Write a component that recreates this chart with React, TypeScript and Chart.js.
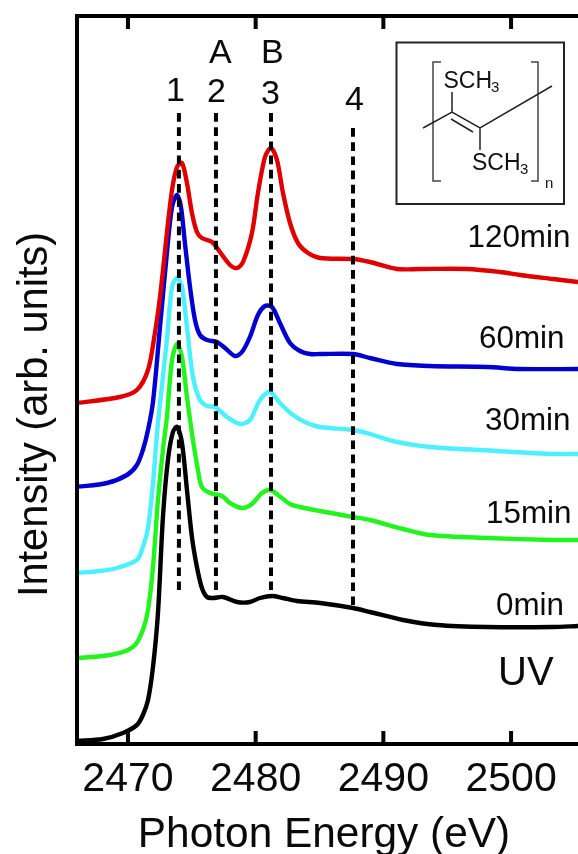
import React, { useEffect, useRef } from "react";
import { Chart, registerables } from "chart.js";

Chart.register(...registerables);

const FONT = '"Liberation Sans", Arial, sans-serif';

const redX = [2466.01, 2469.37, 2470.7, 2471.57, 2472.11, 2472.51, 2473.05, 2473.45, 2473.84, 2474.23, 2474.62, 2475.01, 2475.4, 2475.79, 2476.58, 2477.2, 2477.99, 2478.54, 2479.01, 2479.71, 2480.18, 2480.73, 2481.2, 2481.67, 2482.14, 2482.69, 2483.31, 2484.1, 2485.04, 2487.62, 2488.95, 2491.07, 2492.87, 2496.55, 2499.13, 2500.7, 2503.28, 2505.24];
const redY = [341, 347, 354, 374, 411, 447, 511, 554, 577, 581, 561, 531, 512, 506, 502, 492, 479, 476, 482, 511, 551, 587, 596, 584, 551, 521, 501, 491, 486, 485, 482, 475, 475, 475, 472, 469, 465, 462];

const blueX = [2466.01, 2468.36, 2469.92, 2470.7, 2471.17, 2471.57, 2471.96, 2472.51, 2473.05, 2473.45, 2473.84, 2474.15, 2474.46, 2474.86, 2475.25, 2475.64, 2476.19, 2476.97, 2477.6, 2478.38, 2478.93, 2479.55, 2480.18, 2480.73, 2481.28, 2481.9, 2482.69, 2483.47, 2484.25, 2485.04, 2487.62, 2488.95, 2491.07, 2493.65, 2498.11, 2500.7, 2505.24];
const blueY = [257, 261, 269, 279, 294, 314, 342, 417, 491, 537, 549, 537, 501, 457, 424, 409, 404, 402, 396, 388, 392, 407, 429, 438, 437, 421, 401, 393, 390, 390, 390, 386, 380, 378, 377, 375, 375];

const cyanX = [2466.01, 2467.81, 2469.14, 2470.7, 2471.17, 2471.57, 2471.96, 2472.35, 2473.05, 2473.45, 2473.84, 2474.23, 2474.62, 2475.09, 2475.64, 2476.19, 2476.81, 2477.75, 2478.77, 2479.55, 2480.34, 2481.12, 2481.9, 2482.92, 2484.02, 2485.04, 2487.62, 2488.95, 2491.07, 2493.65, 2498.9, 2503.28, 2505.24];
const cyanY = [171, 173, 176, 184, 197, 216, 261, 321, 404, 457, 466, 457, 417, 367, 344, 338, 337, 327, 320, 324, 344, 352, 341, 329, 321, 317, 314, 310, 302, 297, 293, 290, 290];

const greenX = [2466.01, 2468.04, 2469.61, 2470.55, 2471.17, 2471.57, 2471.96, 2472.35, 2472.74, 2473.05, 2473.45, 2473.84, 2474.23, 2474.62, 2475.09, 2475.48, 2475.79, 2476.42, 2477.36, 2477.99, 2478.93, 2479.71, 2480.49, 2481.12, 2481.75, 2482.69, 2483.47, 2485.04, 2487.62, 2488.95, 2491.54, 2493.65, 2498.11, 2503.28, 2505.24];
const greenY = [86, 88, 92, 99, 114, 134, 177, 244, 294, 327, 384, 400, 387, 347, 304, 274, 257, 251, 248, 241, 236, 240, 251, 254, 249, 240, 237, 233, 227, 224, 215, 209, 206, 204, 204];

const blackX = [2466.01, 2468.04, 2469.61, 2470.7, 2471.17, 2471.57, 2471.96, 2472.35, 2472.74, 2473.13, 2473.52, 2473.84, 2474.23, 2474.62, 2475.01, 2475.4, 2475.79, 2476.19, 2476.66, 2477.44, 2478.54, 2479.55, 2480.34, 2481.28, 2482.14, 2483.23, 2485.04, 2487.62, 2488.95, 2491.54, 2494.2, 2498.11, 2503.28, 2505.24];
const blackY = [3, 5, 11, 19, 29, 44, 77, 131, 227, 284, 312, 317, 301, 254, 207, 177, 156, 147, 146, 147, 142, 142, 146, 148, 146, 143, 141, 136, 132, 124, 119, 117, 117, 118];

const seriesNames = ["0min", "15min", "30min", "60min", "120min"];
const seriesColors = ["#000000", "#22f51e", "#4df0ff", "#0000d0", "#e00000"];

const markerEnergies = [2473.99, 2476.89, 2481.2, 2487.62];
const markerTops = [631, 631, 631, 616];
const markerBottoms = [154, 154, 154, 139];

const xTicks = [2470, 2480, 2490, 2500];

const zipXY = (xs: number[], ys: number[]) => xs.map((x, i) => ({ x, y: ys[i] }));

const annotationPlugin = {
  id: "annotations",
  afterDatasetsDraw(chart: any) {
    const { ctx, scales } = chart;
    const a = chart.chartArea;
    ctx.save();

    ctx.strokeStyle = "#000";
    ctx.lineWidth = 4;
    ctx.lineCap = "butt";
    ctx.beginPath();
    ctx.moveTo(a.left, a.bottom + 2);
    ctx.lineTo(a.left, a.top);
    ctx.moveTo(a.left - 2, a.top);
    ctx.lineTo(578, a.top);
    ctx.moveTo(a.left - 2, a.bottom);
    ctx.lineTo(578, a.bottom);
    for (const t of xTicks) {
      const px = scales.x.getPixelForValue(t);
      ctx.moveTo(px, a.top);
      ctx.lineTo(px, a.top + 13);
      ctx.moveTo(px, a.bottom);
      ctx.lineTo(px, a.bottom - 13);
    }
    ctx.stroke();

    ctx.fillStyle = "#0a0a0a";
    ctx.textBaseline = "alphabetic";
    ctx.textAlign = "left";
    const text = (s: string, x: number, y: number, size: number) => {
      ctx.font = `${size}px ${FONT}`;
      ctx.fillText(s, x, y);
    };
    text("1", 166, 101, 34);
    text("2", 207, 102, 34);
    text("3", 261, 104, 34);
    text("4", 345, 110, 34);
    text("A", 209, 63, 34);
    text("B", 261, 63, 34);
    text(seriesNames[4], 467.5, 247, 31.4);
    text(seriesNames[3], 479, 348, 31.4);
    text(seriesNames[2], 485, 430, 31.4);
    text(seriesNames[1], 486, 523, 31.4);
    text(seriesNames[0], 496, 615, 31.4);
    text("UV", 498, 685, 40);

    // axis titles
    ctx.textAlign = "center";
    text("Photon Energy (eV)", 324, 847, 42.4);
    ctx.save();
    ctx.translate(47, 414.5);
    ctx.rotate(-Math.PI / 2);
    text("Intensity (arb. units)", 0, 0, 41.6);
    ctx.restore();
    ctx.textAlign = "left";

    // inset structure
    ctx.lineWidth = 2;
    ctx.strokeStyle = "#222";
    ctx.strokeRect(396.5, 42.5, 167.5, 161.5);
    ctx.lineWidth = 1.5;
    ctx.strokeStyle = "#444";
    ctx.beginPath();
    ctx.moveTo(441, 62); ctx.lineTo(433, 62); ctx.lineTo(433, 181); ctx.lineTo(441, 181);
    ctx.moveTo(531, 62); ctx.lineTo(538, 62); ctx.lineTo(538, 181); ctx.lineTo(531, 181);
    ctx.stroke();
    ctx.strokeStyle = "#222";
    ctx.beginPath();
    ctx.moveTo(423, 128); ctx.lineTo(452, 112); ctx.lineTo(480, 128); ctx.lineTo(552, 86);
    ctx.moveTo(451, 119); ctx.lineTo(473, 132);
    ctx.moveTo(452, 92); ctx.lineTo(452, 112);
    ctx.moveTo(480, 128); ctx.lineTo(480, 150);
    ctx.stroke();
    ctx.fillStyle = "#111";
    text("SCH", 443.5, 88, 23);
    text("3", 491, 92, 15);
    text("SCH", 472, 170, 23);
    text("3", 520, 174, 15);
    text("n", 545, 188, 15);
    ctx.restore();
  },
};

export default function App() {
  const ref = useRef<HTMLCanvasElement | null>(null);
  useEffect(() => {
    if (!ref.current) return;
    const curves = [
      { name: seriesNames[0], xs: blackX, ys: blackY, color: seriesColors[0] },
      { name: seriesNames[1], xs: greenX, ys: greenY, color: seriesColors[1] },
      { name: seriesNames[2], xs: cyanX, ys: cyanY, color: seriesColors[2] },
      { name: seriesNames[3], xs: blueX, ys: blueY, color: seriesColors[3] },
      { name: seriesNames[4], xs: redX, ys: redY, color: seriesColors[4] },
    ];
    const chart = new Chart(ref.current, {
      type: "line",
      data: {
        datasets: [
          ...curves.map((c, i) => ({
            label: c.name,
            data: zipXY(c.xs, c.ys),
            borderColor: c.color,
            borderWidth: 4.4,
            pointRadius: 0,
            tension: 0.3,
            order: 10 - i,
          })),
          ...markerEnergies.map((e, i) => ({
            label: `marker ${i + 1}`,
            data: [
              { x: e, y: markerTops[i] },
              { x: e, y: markerBottoms[i] },
            ],
            borderColor: "#000",
            borderWidth: 4,
            borderDash: [8.7, 5.5],
            borderCapStyle: "butt",
            pointRadius: 0,
            order: 0,
          })),
        ],
      },
      options: {
        animation: false,
        responsive: false,
        devicePixelRatio: 1,
        layout: { padding: { top: 16, right: 0, left: 0, bottom: 0 } },
        plugins: { legend: { display: false }, tooltip: { enabled: false }, title: { display: false } },
        scales: {
          x: {
            type: "linear",
            min: 2466.01,
            max: 2505.24,
            border: { display: false },
            grid: { display: false, drawTicks: false },
            afterFit: (s: any) => { s.height = 110; },
            afterBuildTicks: (s: any) => { s.ticks = xTicks.map((value) => ({ value })); },
            ticks: {
              color: "#0a0a0a",
              font: { family: FONT, size: 41 },
              padding: 11,
              maxRotation: 0,
              autoSkip: false,
              callback: (v: any) => String(v),
            },
          },
          y: {
            type: "linear",
            min: 0,
            max: 728,
            border: { display: false },
            grid: { display: false, drawTicks: false },
            afterFit: (s: any) => { s.width = 77; },
            ticks: { display: false },
          },
        },
      },
      plugins: [annotationPlugin],
    } as any);
    return () => chart.destroy();
  }, []);
  return (
    <div style={{ position: "absolute", left: 0, top: 0, width: 578, height: 854, background: "#fff" }}>
      <canvas ref={ref} width={578} height={854} style={{ display: "block" }} />
    </div>
  );
}
